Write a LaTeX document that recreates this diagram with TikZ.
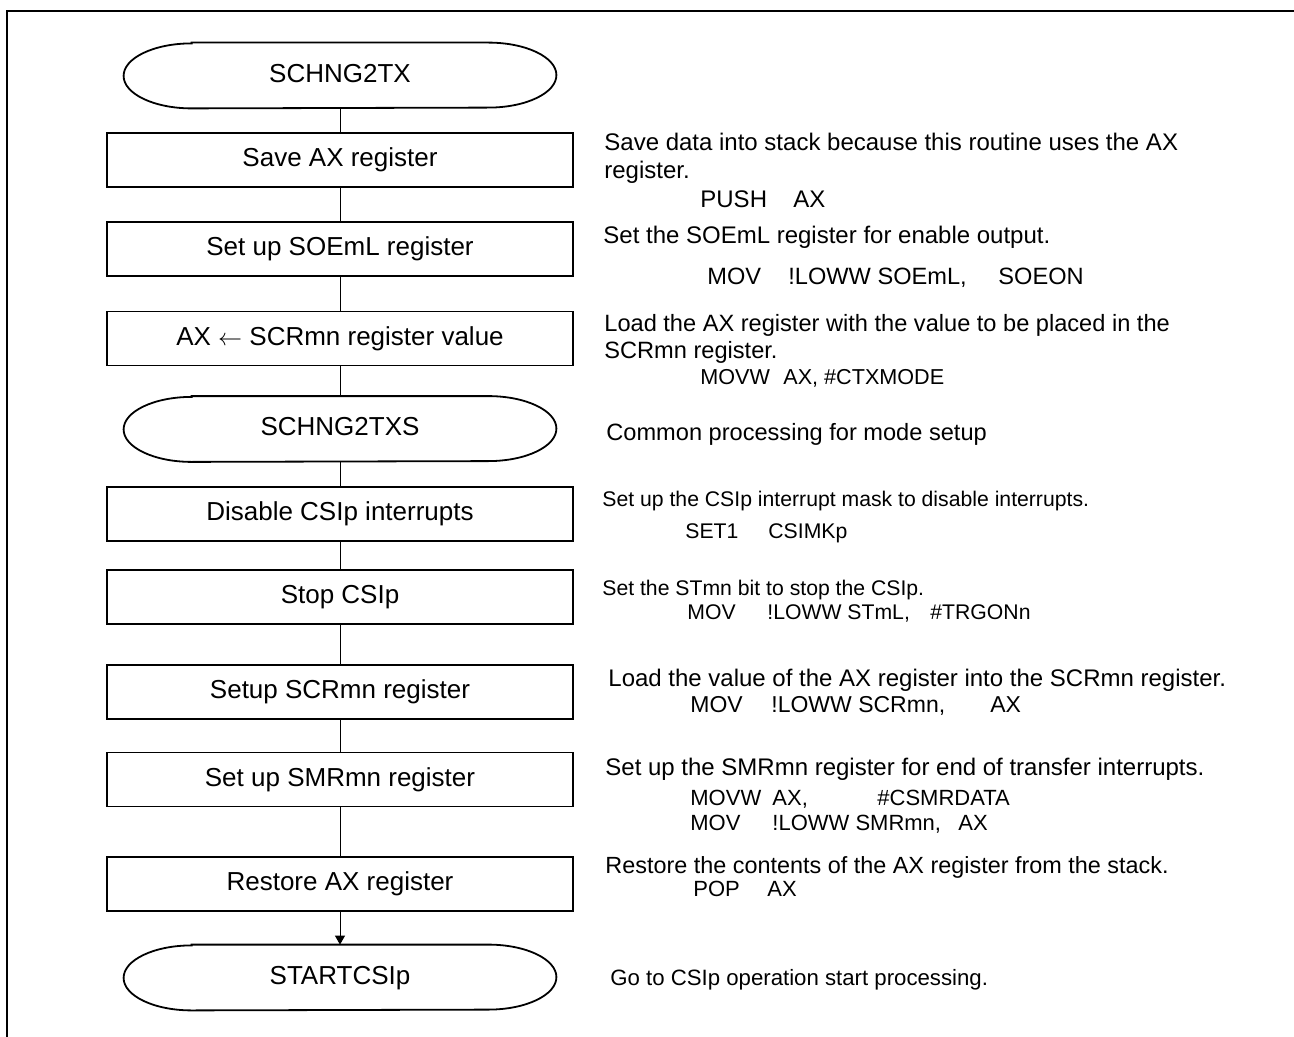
\documentclass[tikz,border=0pt]{standalone}
\usepackage{fontspec}
\setmainfont{Liberation Sans}
\usetikzlibrary{arrows.meta}
\newcommand\termdraw[1]{\draw[termline] ([xshift=34pt]#1.north west) -- ([xshift=-34pt]#1.north east) arc[start angle=90,end angle=-90,x radius=34pt,y radius=16.25pt] -- ([xshift=34pt]#1.south west) arc[start angle=270,end angle=90,x radius=34pt,y radius=16.25pt] -- cycle;}
\begin{document}
\begin{tikzpicture}[x=0.5pt,y=0.5pt,
  boxfont/.style={font=\fontsize{13}{15.6}\selectfont},
  procbox/.style={draw, line width=0.9pt, minimum width=233pt, minimum height=27pt, inner sep=0pt, boxfont, text height=9.5pt, text depth=2.7pt},
  termnode/.style={minimum width=216pt, minimum height=32.5pt, inner sep=0pt, boxfont, text height=9.5pt, text depth=2.7pt},
  termline/.style={line width=0.9pt},
  conn/.style={line width=0.5pt},
  note/.style={anchor=base west, inner sep=0pt, font=\fontsize{#1}{14}\selectfont},
  note/.default=10.6,
  frameline/.style={line width=1pt}]

\useasboundingbox (0,0) rectangle (1294,-1037);
\coordinate (fa) at (7,-1037);
\coordinate (fb) at (7,-11);
\coordinate (fc) at (1294,-11);
\draw[frameline] (fa) -- (fb) -- (fc);

% flowchart
\node[termnode] (t1) at (340,-75.5) {SCHNG2TX};
\node[procbox] (b1) at (340,-160) {Save AX register};
\node[procbox] (b2) at (340,-249) {Set up SOEmL register};
\node[procbox] (b3) at (340,-338.5) {AX $\leftarrow$ SCRmn register value};
\node[termnode] (t2) at (340,-429) {SCHNG2TXS};
\node[procbox] (b4) at (340,-514) {Disable CSIp interrupts};
\node[procbox] (b5) at (340,-597) {Stop CSIp};
\node[procbox] (b6) at (340,-692) {Setup SCRmn register};
\node[procbox] (b7) at (340,-779.5) {Set up SMRmn register};
\node[procbox] (b8) at (340,-884) {Restore AX register};
\node[termnode] (t3) at (340,-977.5) {STARTCSIp};
\termdraw{t1}
\termdraw{t2}
\termdraw{t3}

\draw[conn] (t1) -- (b1);
\draw[conn] (b1) -- (b2);
\draw[conn] (b2) -- (b3);
\draw[conn] (b3) -- (t2);
\draw[conn] (t2) -- (b4);
\draw[conn] (b4) -- (b5);
\draw[conn] (b5) -- (b6);
\draw[conn] (b6) -- (b7);
\draw[conn] (b7) -- (b8);
\draw[conn,-{Triangle[length=4.5pt,width=5pt]}] (b8) -- (t3);

% annotations
\node[note=12] (n1a) at (604,-150.5) {Save data into stack because this routine uses the AX};
\node[note=12] (n1b) at (604,-178.5) {register.};
\node[note=12] (n1c) at (700,-207.5) {\makebox[46.5pt][l]{PUSH}AX};

\node[note=12] (n2a) at (603,-243.5) {Set the SOEmL register for enable output.};
\node[note=11.8] (n2b) at (707,-284.5) {\makebox[40.5pt][l]{MOV}\makebox[105pt][l]{!LOWW SOEmL,}SOEON};

\node[note=11.8] (n3a) at (604,-331.5) {Load the AX register with the value to be placed in the};
\node[note=11.8] (n3b) at (604,-358.5) {SCRmn register.};
\node[note=10.8] (n3c) at (700,-384) {\makebox[41.5pt][l]{MOVW}AX, \#CTXMODE};

\node[note=11.8] (n4a) at (606,-440.5) {Common processing for mode setup};

\node[note] (n5a) at (602,-506) {Set up the CSIp interrupt mask to disable interrupts.};
\node[note] (n5b) at (685,-538.5) {\makebox[41.5pt][l]{SET1}CSIMKp};

\node[note] (n6a) at (602,-595.5) {Set the STmn bit to stop the CSIp.};
\node[note] (n6b) at (687,-619.5) {\makebox[40pt][l]{MOV}\makebox[81.5pt][l]{!LOWW STmL,}\#TRGONn};

\node[note=12] (n7a) at (608,-686.5) {Load the value of the AX register into the SCRmn register.};
\node[note=11.5] (n7b) at (690,-712.5) {\makebox[40.5pt][l]{MOV}\makebox[109.5pt][l]{!LOWW SCRmn,}AX};

\node[note=12] (n8a) at (605,-775.5) {Set up the SMRmn register for end of transfer interrupts.};
\node[note=11] (n8b) at (690,-805) {\makebox[41pt][l]{MOVW}\makebox[52.5pt][l]{AX,}\#CSMRDATA};
\node[note=11] (n8c) at (690,-830) {\makebox[41pt][l]{MOV}\makebox[93pt][l]{!LOWW SMRmn,}AX};

\node[note=11.7] (n9a) at (605,-873.5) {Restore the contents of the AX register from the stack.};
\node[note=11] (n9b) at (693,-896) {\makebox[37pt][l]{POP}AX};

\node[note=11.1] (n10a) at (610,-985) {Go to CSIp operation start processing.};
\end{tikzpicture}
\end{document}
